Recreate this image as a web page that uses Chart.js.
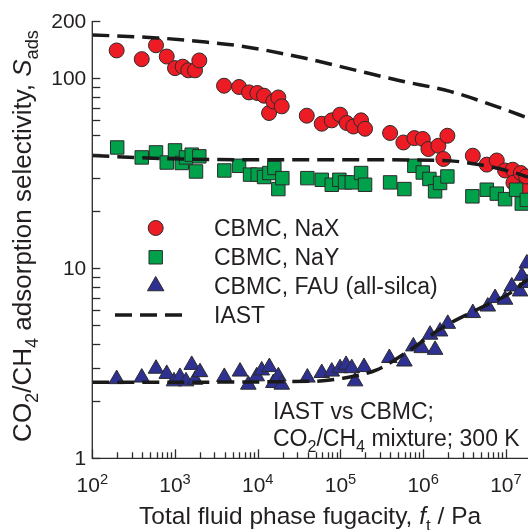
<!DOCTYPE html>
<html><head><meta charset="utf-8">
<script src="https://cdn.jsdelivr.net/npm/chart.js@4.4.0/dist/chart.umd.min.js"></script>
<style>html,body{margin:0;padding:0;background:#fff;}canvas{display:block;}</style>
</head><body>
<canvas id="c" width="528" height="530"></canvas>
<script>
// ---------- data ----------
const naxX = [197,396,589,794,1000,1239,1448,1746,1967,3914,5943,7848,9890,11920,13700,15450,17740,19500,39150,59400,78500,98900,119100,143200,177500,198300,398000,576500,782600,988600,1156000,1527000,1755000,1962000,3980000,5875000,7760000,9770000,12110000,12330000,15140000,17070000,17550000];
const naxY = [140,126,149,130,113,115,110,110,124,91.3,89.9,84.2,83.6,80.9,65.6,75.5,79.2,71.1,63.5,57.6,60.0,64.3,58.1,55.7,60.0,54.2,51.5,45.9,48.4,47.9,42.4,44.1,37.6,49.8,39.1,35.1,36.9,32.7,33.0,28.2,31.7,27.0,30.4];

const nayX = [200,396,589,794,1000,1205,1358,1592,1794,1967,3945,5943,8071,10000,11920,13810,15870,17740,19830,39800,59400,78500,97000,113700,137000,177500,198300,398000,592600,782600,988600,1189000,1393000,1600000,1962000,3935000,5875000,7760000,9770000,13280000,15560000,17900000];
const nayY = [43.2,38.3,40.7,36.0,41.7,35.8,38.3,39.6,32.3,38.8,32.7,34.6,31.1,31.1,30.2,31.7,33.7,26.1,29.8,29.8,29.2,27.5,29.2,28.3,28.3,31.7,27.5,28.3,26.1,34.6,31.9,29.5,25.4,28.1,30.4,23.9,25.9,24.7,23.1,25.9,21.9,22.9];

const fauX = [197,396,589,794,972,1148,1358,1592,1746,2005,3945,6109,7696,9727,11170,13810,15450,17740,19500,39800,59400,78500,98900,116900,137000,150200,192800,390000,592600,760700,961500,1211000,1393000,1600000,1983000,3980000,6040000,7400000,9770000,11780000,14850000,15560000,17900000,17900000];
const fauY = [2.61,2.66,2.96,2.78,2.54,2.68,2.54,3.10,2.59,2.84,2.68,2.86,2.44,2.70,2.90,3.02,2.49,2.70,2.44,2.66,2.81,2.86,2.98,3.10,2.98,2.54,3.02,3.37,3.23,3.88,3.80,4.47,3.72,4.65,5.10,5.81,6.29,6.97,6.83,8.02,7.55,9.13,10.6,8.36];

const iastNaXX = [100,601,2005,6700,35300,130600,525600,2115000,9330000,18550000];
const iastNaXY = [169,163,156,147,128,112,97.0,85.2,68.9,61.7];

const iastNaYX = [100,659,10660,172600,1755000,4446000,11240000,18550000];
const iastNaYY = [39.2,37.8,37.2,37.2,36.9,35.3,32.3,30.2];

const iastFauX = [100,42900,108400,274800,694800,1755000,4446000,11240000,18550000];
const iastFauY = [2.51,2.54,2.64,2.92,3.72,4.91,6.05,7.40,8.77];

const xMin = 100, xMax = 1.85e7;
const yMin = 1, yMax = 200;
const xTickExponents = [2,3,4,5,6,7];
const yMinorTicks = [2,3,4,5,6,7,8,9,20,30,40,50,60,70,80,90];
const yLabelValues = [1,10,100,200];
const yLabels = ['1','10','100','200'];

const legendLabels = ['CBMC, NaX','CBMC, NaY','CBMC, FAU (all-silca)','IAST'];

// ---------- helpers ----------
const FONT = '"Liberation Sans", Arial, Helvetica, sans-serif';
const TXT = '#231f20';
function pairs(xs, ys){ return xs.map((v,i)=>({x:v, y:ys[i]})); }

function runFont(r, size){
  const s = r.s ? size*0.7 : size;
  return (r.i ? 'italic ' : '') + s + 'px ' + FONT;
}
function drawRich(ctx, runs, x, y, size, align){
  let total = 0;
  runs.forEach(r=>{ ctx.font = runFont(r,size); r.w = ctx.measureText(r.t).width; total += r.w; });
  let cx = align==='center' ? x - total/2 : (align==='right' ? x - total : x);
  ctx.textAlign = 'left'; ctx.textBaseline = 'alphabetic';
  runs.forEach(r=>{
    ctx.font = runFont(r,size);
    let dy = 0;
    if (r.s==='sub') dy = size*0.28;
    if (r.s==='sup') dy = -size*0.4;
    ctx.fillText(r.t, cx, y+dy);
    cx += r.w;
  });
}

const axesPlugin = {
  id:'axesPlugin',
  afterDatasetsDraw(chart){
    const {ctx, chartArea:a, scales:{x, y}} = chart;
    ctx.save();
    ctx.strokeStyle = '#2b2b2b';
    ctx.lineWidth = 1.3;
    ctx.beginPath();
    ctx.moveTo(a.left, a.top); ctx.lineTo(a.left, a.bottom); ctx.lineTo(a.right+2, a.bottom);
    ctx.stroke();
    x.ticks.forEach(t=>{
      const px = Math.round(x.getPixelForValue(t.value))+0.5;
      const len = t.major ? 9 : 6;
      ctx.beginPath(); ctx.moveTo(px, a.bottom); ctx.lineTo(px, a.bottom-len); ctx.stroke();
    });
    y.ticks.forEach(t=>{
      const py = Math.round(y.getPixelForValue(t.value))+0.5;
      const len = 8;
      ctx.beginPath(); ctx.moveTo(a.left, py); ctx.lineTo(a.left+len, py); ctx.stroke();
    });
    ctx.fillStyle = TXT;
    ctx.font = '21px ' + FONT;
    ctx.textAlign = 'right'; ctx.textBaseline = 'middle';
    yLabelValues.forEach((v,i)=>{
      ctx.fillText(yLabels[i], a.left-6, y.getPixelForValue(v)+1);
    });
    xTickExponents.forEach(e=>{
      const px = x.getPixelForValue(Math.pow(10,e));
      drawRich(ctx, [{t:'10'},{t:String(e), s:'sup'}], px, a.bottom+34, 21, 'center');
    });
    drawRich(ctx, [{t:'Total fluid phase fugacity, '},{t:'f',i:true},{t:'t',s:'sub'},{t:' / Pa'}], (a.left+a.right)/2, 524, 24.5, 'center');
    ctx.save();
    ctx.translate(31, 236);
    ctx.rotate(-Math.PI/2);
    drawRich(ctx, [{t:'CO'},{t:'2',s:'sub'},{t:'/CH'},{t:'4',s:'sub'},{t:' adsorption selectivity, '},{t:'S',i:true},{t:'ads',s:'sub'}], 0, 0, 26, 'center');
    ctx.restore();

    // legend
    const lx = 155.7, tx = 214, rows = [228, 257.3, 286, 315];
    ctx.lineWidth = 1;
    ctx.strokeStyle = '#2b2b2b';
    ctx.fillStyle = '#ed1c24';
    ctx.beginPath(); ctx.arc(lx, rows[0], 7.5, 0, Math.PI*2); ctx.fill(); ctx.stroke();
    ctx.fillStyle = '#00a14b';
    ctx.beginPath(); ctx.rect(lx-6.7, rows[1]-6.7, 13.4, 13.4); ctx.fill(); ctx.stroke();
    ctx.fillStyle = '#2e3192';
    const r = 9.5;
    ctx.beginPath();
    ctx.moveTo(lx, rows[2]-r);
    ctx.lineTo(lx + r*Math.sin(2*Math.PI/3), rows[2] + r*0.5);
    ctx.lineTo(lx - r*Math.sin(2*Math.PI/3), rows[2] + r*0.5);
    ctx.closePath(); ctx.fill(); ctx.stroke();
    ctx.strokeStyle = '#1a1a1a'; ctx.lineWidth = 3.5; ctx.setLineDash([17,8]);
    ctx.beginPath(); ctx.moveTo(115, rows[3]); ctx.lineTo(187, rows[3]); ctx.stroke();
    ctx.setLineDash([]);
    ctx.fillStyle = TXT;
    legendLabels.forEach((l,i)=>{
      drawRich(ctx, [{t:l}], tx, rows[i]+8, 23, 'left');
    });

    drawRich(ctx, [{t:'IAST vs CBMC;'}], 273, 418.5, 23, 'left');
    drawRich(ctx, [{t:'CO'},{t:'2',s:'sub'},{t:'/CH'},{t:'4',s:'sub'},{t:' mixture; 300 K'}], 273, 446, 23, 'left');
    ctx.restore();
  }
};

const lineStyle = {showLine:true, borderColor:'#1a1a1a', borderWidth:3.5, borderDash:[17,8], pointRadius:0, cubicInterpolationMode:'monotone', fill:false, order:0};

new Chart(document.getElementById('c').getContext('2d'), {
  type:'scatter',
  data:{datasets:[
    Object.assign({label:'IAST NaX', data:pairs(iastNaXX, iastNaXY)}, lineStyle),
    Object.assign({label:'IAST NaY', data:pairs(iastNaYX, iastNaYY)}, lineStyle),
    Object.assign({label:'IAST FAU', data:pairs(iastFauX, iastFauY)}, lineStyle),
    {label:'CBMC, FAU (all-silca)', data:pairs(fauX, fauY), pointStyle:'triangle', pointRadius:9, backgroundColor:'#2e3192', borderColor:'#2b2b2b', borderWidth:1, order:1},
    {label:'CBMC, NaY', data:pairs(nayX, nayY), pointStyle:'rect', pointRadius:9.5, backgroundColor:'#00a14b', borderColor:'#2b2b2b', borderWidth:1, order:2},
    {label:'CBMC, NaX', data:pairs(naxX, naxY), pointStyle:'circle', pointRadius:7.5, backgroundColor:'#ed1c24', borderColor:'#2b2b2b', borderWidth:1, order:3}
  ]},
  options:{
    responsive:false, animation:false, events:[],
    layout:{autoPadding:false, padding:{top:21, left:0, right:0, bottom:0}},
    plugins:{legend:{display:false}, tooltip:{enabled:false}, title:{display:false}},
    scales:{
      x:{type:'logarithmic', min:xMin, max:xMax,
        afterBuildTicks(s){
          const t=[];
          xTickExponents.forEach(e=>{ for(let m=1;m<10;m++){ const v=m*Math.pow(10,e); if(v>=xMin && v<=xMax) t.push({value:v, major:m===1}); } });
          s.ticks=t;
        },
        afterFit(s){ s.height = 71.7; },
        ticks:{display:false}, grid:{display:false}, border:{display:false}},
      y:{type:'logarithmic', min:yMin, max:yMax,
        afterBuildTicks(s){
          const t = yLabelValues.map(v=>({value:v, major:true})).concat(yMinorTicks.map(v=>({value:v, major:false})));
          s.ticks=t;
        },
        afterFit(s){ s.width = 92.3; },
        ticks:{display:false}, grid:{display:false}, border:{display:false}}
    }
  },
  plugins:[axesPlugin]
});
</script>
</body></html>
